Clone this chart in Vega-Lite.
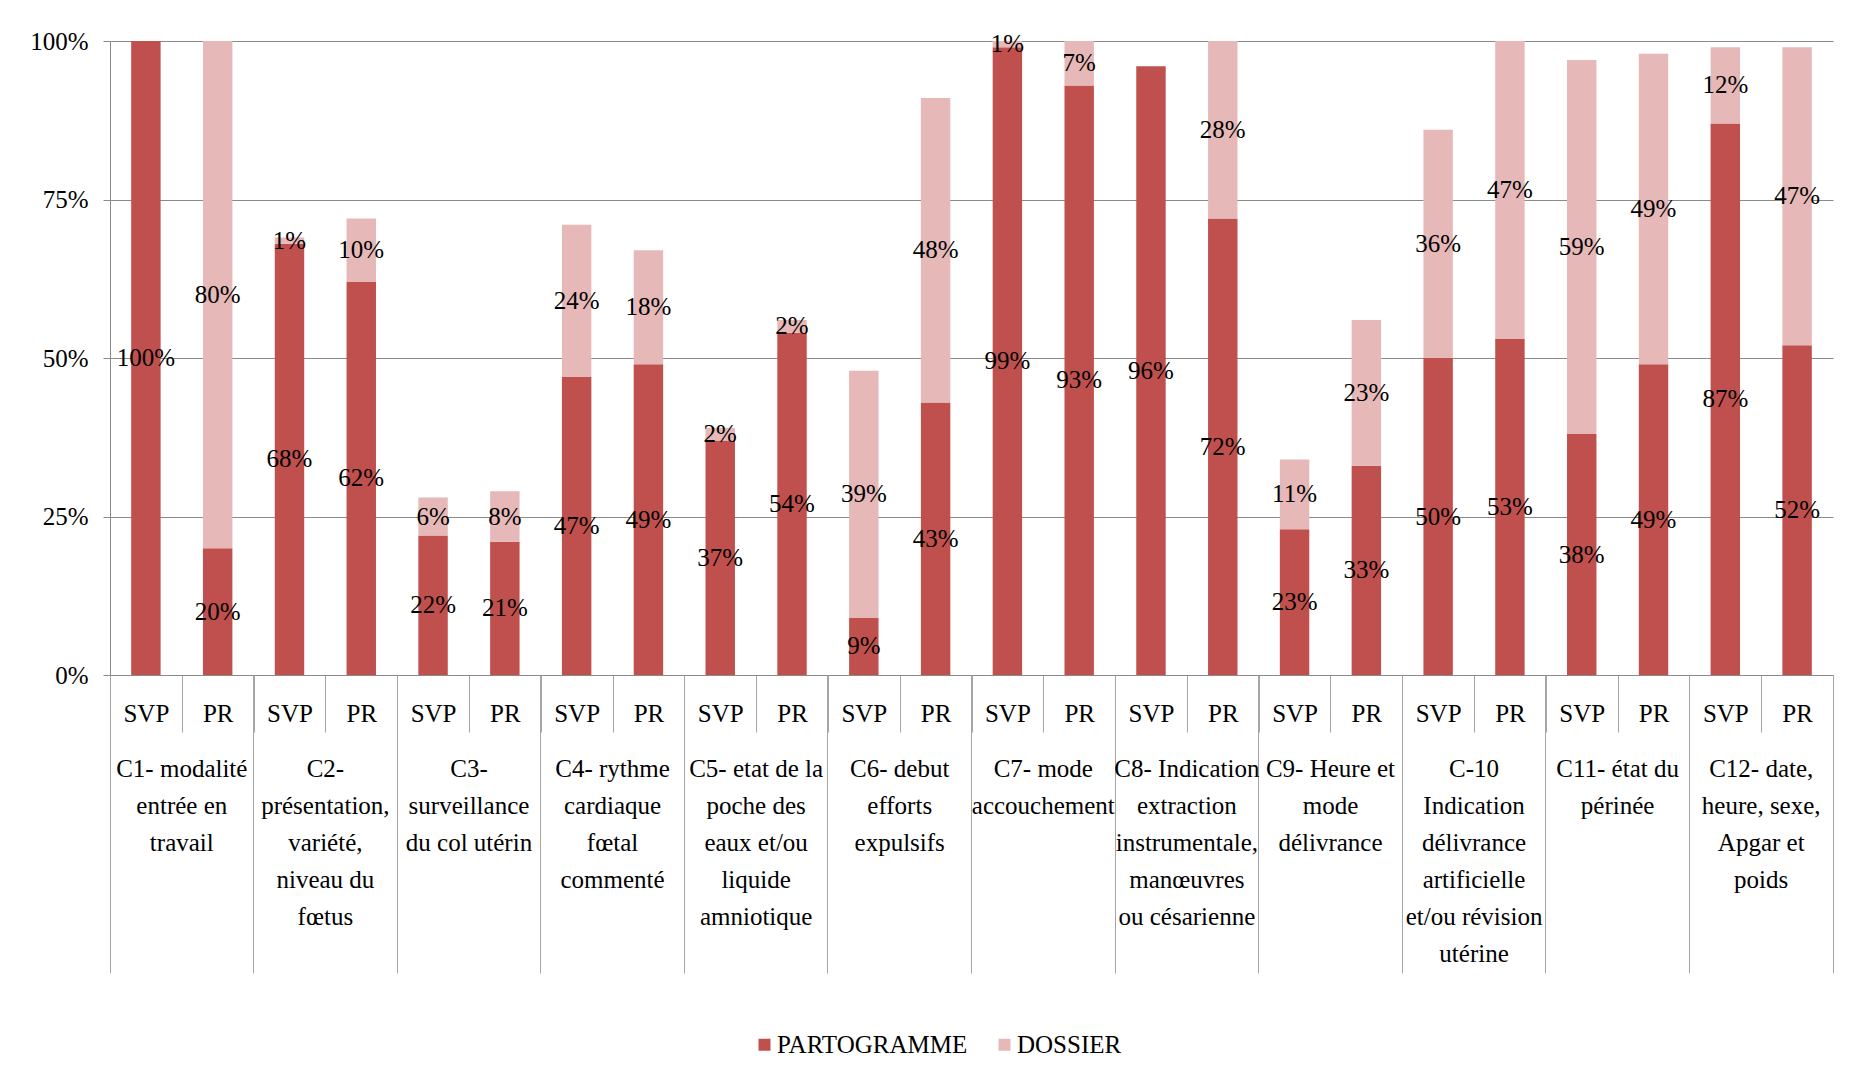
{
  "$schema": "https://vega.github.io/schema/vega-lite/v6.json",
  "width": 1723,
  "height": 634,
  "autosize": {"type": "none"},
  "padding": {"left": 110, "top": 41, "right": 21, "bottom": 413},
  "background": "white",
  "config": {
    "font": "Liberation Serif",
    "view": {"stroke": null},
    "axis": {
      "labelFont": "Liberation Serif",
      "labelFontSize": 25,
      "labelColor": "black",
      "domainColor": "#8a8a8a",
      "tickColor": "#8a8a8a",
      "gridColor": "#8a8a8a",
      "labelLimit": 400,
      "title": null
    }
  },
  "datasets": {
    "barres": [
      {"critere": "C1", "groupe": "SVP", "barre": "C1-SVP", "serie": "PARTOGRAMME", "valeur": 1.00},
      {"critere": "C1", "groupe": "SVP", "barre": "C1-SVP", "serie": "DOSSIER", "valeur": 0.00},
      {"critere": "C1", "groupe": "PR", "barre": "C1-PR", "serie": "PARTOGRAMME", "valeur": 0.20},
      {"critere": "C1", "groupe": "PR", "barre": "C1-PR", "serie": "DOSSIER", "valeur": 0.80},
      {"critere": "C2", "groupe": "SVP", "barre": "C2-SVP", "serie": "PARTOGRAMME", "valeur": 0.68},
      {"critere": "C2", "groupe": "SVP", "barre": "C2-SVP", "serie": "DOSSIER", "valeur": 0.01},
      {"critere": "C2", "groupe": "PR", "barre": "C2-PR", "serie": "PARTOGRAMME", "valeur": 0.62},
      {"critere": "C2", "groupe": "PR", "barre": "C2-PR", "serie": "DOSSIER", "valeur": 0.10},
      {"critere": "C3", "groupe": "SVP", "barre": "C3-SVP", "serie": "PARTOGRAMME", "valeur": 0.22},
      {"critere": "C3", "groupe": "SVP", "barre": "C3-SVP", "serie": "DOSSIER", "valeur": 0.06},
      {"critere": "C3", "groupe": "PR", "barre": "C3-PR", "serie": "PARTOGRAMME", "valeur": 0.21},
      {"critere": "C3", "groupe": "PR", "barre": "C3-PR", "serie": "DOSSIER", "valeur": 0.08},
      {"critere": "C4", "groupe": "SVP", "barre": "C4-SVP", "serie": "PARTOGRAMME", "valeur": 0.47},
      {"critere": "C4", "groupe": "SVP", "barre": "C4-SVP", "serie": "DOSSIER", "valeur": 0.24},
      {"critere": "C4", "groupe": "PR", "barre": "C4-PR", "serie": "PARTOGRAMME", "valeur": 0.49},
      {"critere": "C4", "groupe": "PR", "barre": "C4-PR", "serie": "DOSSIER", "valeur": 0.18},
      {"critere": "C5", "groupe": "SVP", "barre": "C5-SVP", "serie": "PARTOGRAMME", "valeur": 0.37},
      {"critere": "C5", "groupe": "SVP", "barre": "C5-SVP", "serie": "DOSSIER", "valeur": 0.02},
      {"critere": "C5", "groupe": "PR", "barre": "C5-PR", "serie": "PARTOGRAMME", "valeur": 0.54},
      {"critere": "C5", "groupe": "PR", "barre": "C5-PR", "serie": "DOSSIER", "valeur": 0.02},
      {"critere": "C6", "groupe": "SVP", "barre": "C6-SVP", "serie": "PARTOGRAMME", "valeur": 0.09},
      {"critere": "C6", "groupe": "SVP", "barre": "C6-SVP", "serie": "DOSSIER", "valeur": 0.39},
      {"critere": "C6", "groupe": "PR", "barre": "C6-PR", "serie": "PARTOGRAMME", "valeur": 0.43},
      {"critere": "C6", "groupe": "PR", "barre": "C6-PR", "serie": "DOSSIER", "valeur": 0.48},
      {"critere": "C7", "groupe": "SVP", "barre": "C7-SVP", "serie": "PARTOGRAMME", "valeur": 0.99},
      {"critere": "C7", "groupe": "SVP", "barre": "C7-SVP", "serie": "DOSSIER", "valeur": 0.01},
      {"critere": "C7", "groupe": "PR", "barre": "C7-PR", "serie": "PARTOGRAMME", "valeur": 0.93},
      {"critere": "C7", "groupe": "PR", "barre": "C7-PR", "serie": "DOSSIER", "valeur": 0.07},
      {"critere": "C8", "groupe": "SVP", "barre": "C8-SVP", "serie": "PARTOGRAMME", "valeur": 0.96},
      {"critere": "C8", "groupe": "SVP", "barre": "C8-SVP", "serie": "DOSSIER", "valeur": 0.00},
      {"critere": "C8", "groupe": "PR", "barre": "C8-PR", "serie": "PARTOGRAMME", "valeur": 0.72},
      {"critere": "C8", "groupe": "PR", "barre": "C8-PR", "serie": "DOSSIER", "valeur": 0.28},
      {"critere": "C9", "groupe": "SVP", "barre": "C9-SVP", "serie": "PARTOGRAMME", "valeur": 0.23},
      {"critere": "C9", "groupe": "SVP", "barre": "C9-SVP", "serie": "DOSSIER", "valeur": 0.11},
      {"critere": "C9", "groupe": "PR", "barre": "C9-PR", "serie": "PARTOGRAMME", "valeur": 0.33},
      {"critere": "C9", "groupe": "PR", "barre": "C9-PR", "serie": "DOSSIER", "valeur": 0.23},
      {"critere": "C10", "groupe": "SVP", "barre": "C10-SVP", "serie": "PARTOGRAMME", "valeur": 0.50},
      {"critere": "C10", "groupe": "SVP", "barre": "C10-SVP", "serie": "DOSSIER", "valeur": 0.36},
      {"critere": "C10", "groupe": "PR", "barre": "C10-PR", "serie": "PARTOGRAMME", "valeur": 0.53},
      {"critere": "C10", "groupe": "PR", "barre": "C10-PR", "serie": "DOSSIER", "valeur": 0.47},
      {"critere": "C11", "groupe": "SVP", "barre": "C11-SVP", "serie": "PARTOGRAMME", "valeur": 0.38},
      {"critere": "C11", "groupe": "SVP", "barre": "C11-SVP", "serie": "DOSSIER", "valeur": 0.59},
      {"critere": "C11", "groupe": "PR", "barre": "C11-PR", "serie": "PARTOGRAMME", "valeur": 0.49},
      {"critere": "C11", "groupe": "PR", "barre": "C11-PR", "serie": "DOSSIER", "valeur": 0.49},
      {"critere": "C12", "groupe": "SVP", "barre": "C12-SVP", "serie": "PARTOGRAMME", "valeur": 0.87},
      {"critere": "C12", "groupe": "SVP", "barre": "C12-SVP", "serie": "DOSSIER", "valeur": 0.12},
      {"critere": "C12", "groupe": "PR", "barre": "C12-PR", "serie": "PARTOGRAMME", "valeur": 0.52},
      {"critere": "C12", "groupe": "PR", "barre": "C12-PR", "serie": "DOSSIER", "valeur": 0.47}
    ]
  },
  "data": {"name": "barres"},
  "layer": [
    {
      "mark": {"type": "bar", "width": {"band": 0.41}},
      "encoding": {
        "x": {
          "field": "barre", "type": "nominal",
          "scale": {"domain": ["C1-SVP","C1-PR","C2-SVP","C2-PR","C3-SVP","C3-PR","C4-SVP","C4-PR","C5-SVP","C5-PR","C6-SVP","C6-PR","C7-SVP","C7-PR","C8-SVP","C8-PR","C9-SVP","C9-PR","C10-SVP","C10-PR","C11-SVP","C11-PR","C12-SVP","C12-PR"], "paddingInner": 0, "paddingOuter": 0},
          "axis": {
            "orient": "bottom",
            "labelExpr": "split(datum.value, '-')[1]",
            "labelAngle": 0,
            "tickBand": "extent",
            "tickSize": 57,
            "tickColor": "#a6a6a6",
            "labelPadding": -19,
            "labelBaseline": "middle",
            "grid": false,
            "domain": true
          }
        },
        "y": {
          "field": "valeur", "type": "quantitative", "stack": "zero",
          "scale": {"domain": [0, 1], "nice": false},
          "axis": {"values": [0, 0.25, 0.5, 0.75, 1], "format": ".0%", "grid": true, "tickSize": 7, "labelPadding": 15, "domain": true}
        },
        "color": {
          "field": "serie", "type": "nominal",
          "scale": {"domain": ["PARTOGRAMME", "DOSSIER"], "range": ["#C0504D", "#E6B9B8"]},
          "legend": {
            "orient": "none", "legendX": 642, "legendY": 991, "direction": "horizontal",
            "title": null, "symbolType": "square", "symbolSize": 144, "symbolStrokeWidth": 0,
            "labelFont": "Liberation Serif", "labelFontSize": 25, "labelColor": "black",
            "labelLimit": 400, "columnPadding": 24, "labelOffset": 0
          }
        },
        "order": {"field": "serie", "sort": "descending"}
      }
    },
    {
      "transform": [{"filter": "datum.valeur > 0"}],
      "mark": {"type": "text", "font": "Liberation Serif", "fontSize": 25, "color": "black", "baseline": "middle"},
      "encoding": {
        "x": {
          "field": "barre", "type": "nominal",
          "scale": {"domain": ["C1-SVP","C1-PR","C2-SVP","C2-PR","C3-SVP","C3-PR","C4-SVP","C4-PR","C5-SVP","C5-PR","C6-SVP","C6-PR","C7-SVP","C7-PR","C8-SVP","C8-PR","C9-SVP","C9-PR","C10-SVP","C10-PR","C11-SVP","C11-PR","C12-SVP","C12-PR"], "paddingInner": 0, "paddingOuter": 0},
          "axis": {
            "orient": "bottom",
            "values": ["C1-PR","C2-PR","C3-PR","C4-PR","C5-PR","C6-PR","C7-PR","C8-PR","C9-PR","C10-PR","C11-PR","C12-PR"],
            "bandPosition": 1,
            "tickSize": 298,
            "tickColor": "#a6a6a6",
            "labels": false,
            "domain": false,
            "grid": false
          }
        },
        "y": {"field": "valeur", "type": "quantitative", "stack": "zero", "bandPosition": 0.5, "axis": null},
        "detail": {"field": "serie"},
        "text": {"field": "valeur", "type": "quantitative", "format": ".0%"},
        "order": {"field": "serie", "sort": "descending"}
      }
    },
    {
      "mark": {"type": "text", "opacity": 0},
      "encoding": {
        "x": {
          "field": "barre", "type": "nominal",
          "scale": {"domain": ["C1-SVP","C1-PR","C2-SVP","C2-PR","C3-SVP","C3-PR","C4-SVP","C4-PR","C5-SVP","C5-PR","C6-SVP","C6-PR","C7-SVP","C7-PR","C8-SVP","C8-PR","C9-SVP","C9-PR","C10-SVP","C10-PR","C11-SVP","C11-PR","C12-SVP","C12-PR"], "paddingInner": 0, "paddingOuter": 0},
          "axis": {
            "orient": "bottom",
            "values": ["C1-SVP"],
            "bandPosition": 0,
            "tickSize": 298,
            "tickColor": "#a6a6a6",
            "labels": false,
            "domain": false,
            "grid": false
          }
        }
      }
    },
    {
      "mark": {"type": "text", "opacity": 0},
      "encoding": {
        "x": {
          "field": "barre", "type": "nominal",
          "scale": {"domain": ["C1-SVP","C1-PR","C2-SVP","C2-PR","C3-SVP","C3-PR","C4-SVP","C4-PR","C5-SVP","C5-PR","C6-SVP","C6-PR","C7-SVP","C7-PR","C8-SVP","C8-PR","C9-SVP","C9-PR","C10-SVP","C10-PR","C11-SVP","C11-PR","C12-SVP","C12-PR"], "paddingInner": 0, "paddingOuter": 0},
          "axis": {
            "orient": "bottom",
            "values": ["C1-SVP","C2-SVP","C3-SVP","C4-SVP","C5-SVP","C6-SVP","C7-SVP","C8-SVP","C9-SVP","C10-SVP","C11-SVP","C12-SVP"],
            "ticks": false,
            "domain": false,
            "grid": false,
            "labelAngle": 0,
            "labelAlign": "center",
            "labelBaseline": "top",
            "labelPadding": 81,
            "labelOffset": 35.9,
            "labelLineHeight": 37,
            "labelExpr": "[['C1- modalité','entrée en','travail'],['C2-','présentation,','variété,','niveau du','fœtus'],['C3-','surveillance','du col utérin'],['C4- rythme','cardiaque','fœtal','commenté'],['C5- etat de la','poche des','eaux et/ou','liquide','amniotique'],['C6- debut','efforts','expulsifs'],['C7- mode','accouchement'],['C8- Indication','extraction','instrumentale,','manœuvres','ou césarienne'],['C9- Heure et','mode','délivrance'],['C-10','Indication','délivrance','artificielle','et/ou révision','utérine'],['C11- état du','périnée'],['C12- date,','heure, sexe,','Apgar et','poids']][toNumber(slice(split(datum.value, '-')[0], 1)) - 1]"
          }
        }
      }
    }
  ],
  "resolve": {"axis": {"x": "independent", "y": "independent"}}
}
